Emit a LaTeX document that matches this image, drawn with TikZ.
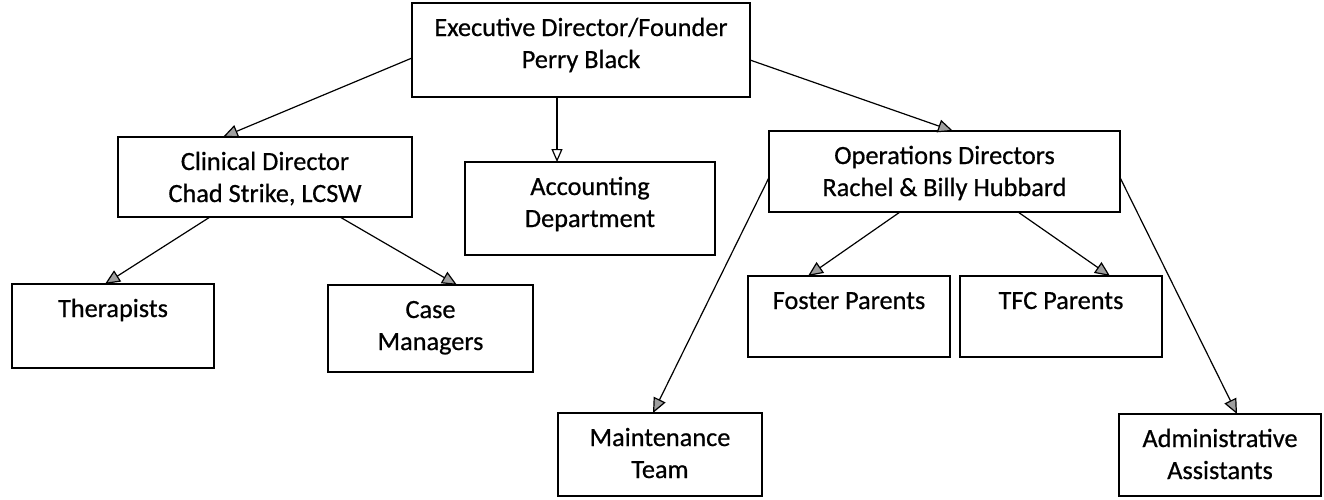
\documentclass[tikz,border=0pt]{standalone}
\usepackage{fontspec}
\setmainfont{Carlito}[FakeBold=0.6]
\usetikzlibrary{arrows.meta}

% a box of given width/height with its text set from the top
\newcommand{\boxtext}[3]{\parbox[c][#2pt][t]{#1pt}{\centering\rule{0pt}{33pt}#3}}

\tikzset{
  orgbox/.style={draw=black, line width=1.7pt, fill=white, inner sep=0pt, outer sep=0pt,
                 anchor=north west, font=\fontsize{26.3}{32}\selectfont},
  link/.style={line width=1.2pt, -{Triangle[length=15pt,width=13pt,fill=gray!75]}}
}

\begin{document}
\begin{tikzpicture}[x=1pt, y=-1pt]
\useasboundingbox (0,0) rectangle (1324,499);

% boxes
\node[orgbox] (exec)   at (412,3)   {\boxtext{338}{94}{Executive Director/Founder\\Perry Black}};
\node[orgbox] (clin)   at (118,137) {\boxtext{294}{80}{Clinical Director\\Chad Strike, LCSW}};
\node[orgbox] (acct)   at (465,162) {\boxtext{250}{93}{Accounting\\Department}};
\node[orgbox] (ops)    at (769,131) {\boxtext{351}{81}{Operations Directors\\Rachel \& Billy Hubbard}};
\node[orgbox] (ther)   at (12,284)  {\boxtext{202}{84}{Therapists}};
\node[orgbox] (case)   at (328,285) {\boxtext{205}{87}{Case\\Managers}};
\node[orgbox] (foster) at (748,276) {\boxtext{202}{81}{Foster Parents}};
\node[orgbox] (tfc)    at (960,276) {\boxtext{202}{81}{TFC Parents}};
\node[orgbox] (maint)  at (558,413) {\boxtext{204}{83}{Maintenance\\Team}};
\node[orgbox] (admin)  at (1119,414){\boxtext{202}{82}{Administrative\\Assistants}};

% reporting lines
\draw[link] ([yshift=-8pt]exec.west) -- ([xshift=105pt]clin.north west);
\draw[line width=1.2pt, -{Triangle[length=13pt,width=11pt,fill=white]}]
  ([xshift=145pt]exec.south west) -- ([xshift=92pt]acct.north west);
\draw[link] ([yshift=-10pt]exec.east) -- ([xshift=184pt]ops.north west);
\draw[link] ([xshift=92pt]clin.south west) -- ([xshift=93pt]ther.north west);
\draw[link] ([xshift=222pt]clin.south west) -- ([xshift=129pt]case.north west);
\draw[link] ([yshift=-6pt]ops.west) -- ([xshift=95pt]maint.north west);
\draw[link] ([xshift=131pt]ops.south west) -- ([xshift=60pt]foster.north west);
\draw[link] ([xshift=249pt]ops.south west) -- ([xshift=150pt]tfc.north west);
\draw[link] ([yshift=-6pt]ops.east) -- ([xshift=118pt]admin.north west);
\end{tikzpicture}
\end{document}
